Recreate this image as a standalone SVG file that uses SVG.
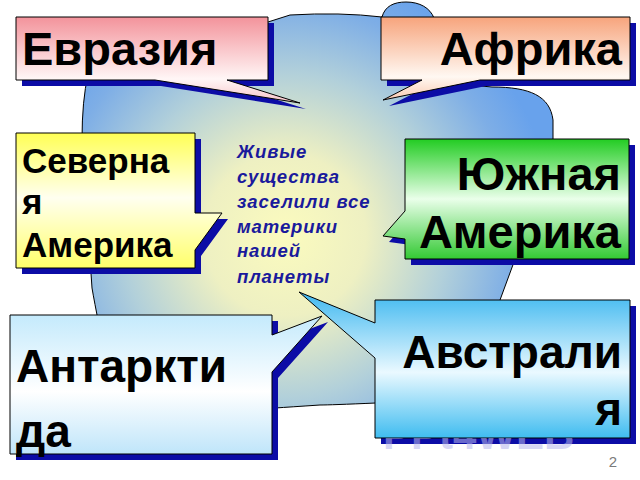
<svg xmlns="http://www.w3.org/2000/svg" width="640" height="480" viewBox="0 0 640 480">
<defs>
<radialGradient id="gBlob" gradientUnits="userSpaceOnUse" cx="285" cy="235" r="270">
<stop offset="0" stop-color="#fbfbbe"/>
<stop offset="0.3" stop-color="#eef0c2"/>
<stop offset="0.6" stop-color="#b2d0da"/>
<stop offset="0.85" stop-color="#7eaee6"/>
<stop offset="1" stop-color="#68a2ec"/>
</radialGradient>
<linearGradient id="gPink" x1="0" y1="0" x2="0" y2="1">
<stop offset="0" stop-color="#f3939b"/><stop offset="0.72" stop-color="#fff6f6"/><stop offset="1" stop-color="#f8c4c8"/>
</linearGradient>
<linearGradient id="gOrange" x1="0" y1="0" x2="0" y2="1">
<stop offset="0" stop-color="#f7a47c"/><stop offset="0.72" stop-color="#fff8f2"/><stop offset="1" stop-color="#fbcbb2"/>
</linearGradient>
<linearGradient id="gYellow" x1="0" y1="0" x2="0" y2="1">
<stop offset="0" stop-color="#ffff55"/><stop offset="0.48" stop-color="#fffff0"/><stop offset="1" stop-color="#ffff6a"/>
</linearGradient>
<linearGradient id="gGreen" x1="0" y1="0" x2="0" y2="1">
<stop offset="0" stop-color="#22cc22"/><stop offset="0.5" stop-color="#eaffea"/><stop offset="1" stop-color="#33c933"/>
</linearGradient>
<linearGradient id="gIce" x1="0" y1="0" x2="0" y2="1">
<stop offset="0" stop-color="#c4eafc"/><stop offset="0.55" stop-color="#ffffff"/><stop offset="1" stop-color="#bfe5fa"/>
</linearGradient>
<linearGradient id="gSky" x1="0" y1="0" x2="0" y2="1">
<stop offset="0" stop-color="#3fb8f0"/><stop offset="0.55" stop-color="#eaf9ff"/><stop offset="1" stop-color="#3fbcf0"/>
</linearGradient>
<clipPath id="wmClip"><rect x="370" y="438" width="220" height="20"/></clipPath>
</defs>
<style>
.sh{fill:#0c0ca6;}
.box{stroke:#000;stroke-width:1;stroke-linejoin:miter;}
.big{font-family:"Liberation Sans",Arial,sans-serif;font-weight:bold;fill:#000;}
.mid{font-family:"Liberation Sans",Arial,sans-serif;font-weight:bold;font-style:italic;fill:#1a1a9c;font-size:18.5px;letter-spacing:0.9px;}
</style>

<g id="background">
<path d="M 90 70 L 268 22 L 290 15 Q 340 12 382 17 C 385 6 394 2 406 2 C 420 2 430 8 434 18 L 470 85 L 492 87 C 530 87 550 96 553 120 L 553 150 L 520 250 L 514 262 L 500 300 L 497 310 L 480 380 L 376 403 Q 330 405 320 405 Q 290 407 275 408 L 100 330 Q 94 300 92 288 L 82 140 Q 82 100 88 75 Z" fill="url(#gBlob)" stroke="#000" stroke-width="1"/>
</g>

<g id="center-text">
<text class="mid" x="237" y="158">Живые</text>
<text class="mid" x="237" y="183">существа</text>
<text class="mid" x="237" y="208">заселили все</text>
<text class="mid" x="237" y="233">материки</text>
<text class="mid" x="237" y="257">нашей</text>
<text class="mid" x="237" y="283">планеты</text>
</g>

<g id="eurasia">
<path class="sh" transform="translate(6,6)" d="M16 17 H268 V80 H227 L300 103 L155 80 H16 Z"/>
<path class="box" fill="url(#gPink)" d="M16 17 H268 V80 H227 L300 103 L155 80 H16 Z"/>
<text class="big" x="22" y="65" font-size="47">Евразия</text>
</g>

<g id="africa">
<path class="sh" transform="translate(6,6)" d="M381 17 H630 V80 H480 L383 100 L422 80 H381 Z"/>
<path class="box" fill="url(#gOrange)" d="M381 17 H630 V80 H480 L383 100 L422 80 H381 Z"/>
<text class="big" x="622" y="65" font-size="47" text-anchor="end">Африка</text>
</g>

<g id="north-america">
<path class="sh" transform="translate(6,6)" d="M16 133 H195 V213 L222 213 L195 250 V268 H16 Z"/>
<path class="box" fill="url(#gYellow)" d="M16 133 H195 V213 L222 213 L195 250 V268 H16 Z"/>
<text class="big" x="22" y="173" font-size="35">Северна</text>
<text class="big" x="22" y="214" font-size="35">я</text>
<text class="big" x="22" y="257" font-size="35">Америка</text>
</g>

<g id="south-america">
<path class="sh" transform="translate(6,6)" d="M405 139 H629 V259 H405 V239 L383 236 L405 211 Z"/>
<path class="box" fill="url(#gGreen)" d="M405 139 H629 V259 H405 V239 L383 236 L405 211 Z"/>
<text class="big" x="621" y="190" font-size="47" text-anchor="end">Южная</text>
<text class="big" x="621" y="248" font-size="47" text-anchor="end">Америка</text>
</g>

<g id="antarctica">
<path class="sh" transform="translate(6,6)" d="M10 315 H272 V335 L322 316 L272 372 V454 H10 Z"/>
<path class="box" fill="url(#gIce)" d="M10 315 H272 V335 L322 316 L272 372 V454 H10 Z"/>
<text class="big" x="16" y="382" font-size="46">Антаркти</text>
<text class="big" x="16" y="447" font-size="46">да</text>
</g>

<g id="australia">
<rect class="sh" x="381" y="306" width="255" height="138"/>
<path class="box" fill="url(#gSky)" d="M375 300 H630 V438 H375 V358 L299 292 L375 323 Z"/>
<text class="big" x="622" y="368" font-size="46" text-anchor="end">Австрали</text>
<text class="big" x="622" y="425" font-size="46" text-anchor="end">я</text>
</g>

<g id="watermark" clip-path="url(#wmClip)">
<text x="383" y="449" font-family="Liberation Sans,Arial,sans-serif" font-weight="bold" font-size="42" fill="#b8b8ec" opacity="0.55">PPt4WEB</text>
</g>

<text id="page-number" x="613" y="467" font-family="Liberation Sans,Arial,sans-serif" font-size="15" fill="#7a7a7a" text-anchor="middle">2</text>
</svg>
